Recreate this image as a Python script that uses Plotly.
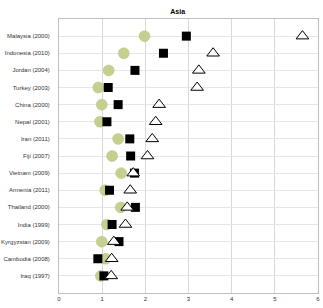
import plotly.graph_objects as go

countries = ["Malaysia (2000)", "Indonesia (2010)", "Jordan (2004)", "Turkey (2003)",
             "China (2000)", "Nepal (2001)", "Iran (2011)", "Fiji (2007)",
             "Vietnam (2009)", "Armenia (2011)", "Thailand (2000)", "India (1999)",
             "Kyrgyzstan (2009)", "Cambodia (2008)", "Iraq (1997)"]
circle_vals = [1.98, 1.50, 1.15, 0.91, 0.99, 0.95, 1.37, 1.23, 1.44, 1.07, 1.43, 1.11, 0.99, 1.08, 0.97]
square_vals = [2.95, 2.42, 1.76, 1.14, 1.37, 1.11, 1.64, 1.66, 1.75, 1.17, 1.77, 1.23, 1.39, 0.90, 1.04]
triangle_vals = [5.64, 3.57, 3.24, 3.20, 2.32, 2.24, 2.16, 2.05, 1.72, 1.65, 1.58, 1.54, 1.27, 1.22, 1.21]
x_ticks = [0, 1, 2, 3, 4, 5, 6]

idx = list(range(len(countries)))

fig = go.Figure()
fig.add_trace(go.Scatter(x=circle_vals, y=idx, mode="markers",
                         marker=dict(symbol="circle", size=11, color="#c3d08f",
                                     line=dict(width=0.5, color="#b5c47f"))))
fig.add_trace(go.Scatter(x=square_vals, y=idx, mode="markers",
                         marker=dict(symbol="square", size=9, color="#000000",
                                     line=dict(width=0))))
fig.add_trace(go.Scatter(x=triangle_vals, y=idx, mode="markers",
                         marker=dict(symbol="triangle-up", size=11, color="white",
                                     line=dict(width=1, color="#000000"))))

fig.update_layout(
    width=323, height=308,
    margin=dict(l=59, r=5, t=19, b=15),
    paper_bgcolor="white", plot_bgcolor="white",
    showlegend=False,
    title=dict(text="<b>Asia</b>", x=0.55, xanchor="center", y=0.97, yanchor="top",
               font=dict(family="Liberation Sans, Arial", size=7, color="#000")),
    font=dict(family="Liberation Sans, Arial", size=6, color="#333"),
)
fig.update_xaxes(range=[0, 6], tickvals=x_ticks, ticktext=[str(t) for t in x_ticks],
                 showgrid=True, gridcolor="#d9d9d9", gridwidth=1, zeroline=False,
                 showline=True, linecolor="#bfbfbf", linewidth=1, mirror=True,
                 ticks="", automargin=False, tickfont=dict(size=6, color="#333"))
fig.update_yaxes(range=[15, -1], tickvals=idx, ticktext=countries,
                 showgrid=True, gridcolor="#e6e6e6", gridwidth=1, zeroline=False,
                 showline=True, linecolor="#bfbfbf", linewidth=1, mirror=True,
                 ticks="", ticklabelstandoff=7, automargin=False,
                 tickfont=dict(size=6, color="#333"))

fig.write_html("out.html")
